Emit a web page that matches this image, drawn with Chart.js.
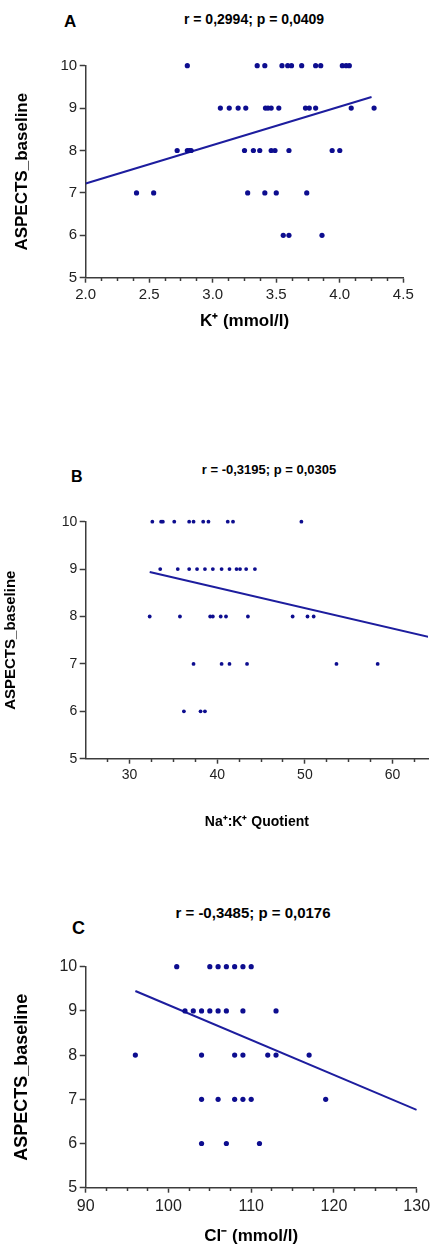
<!DOCTYPE html>
<html><head><meta charset="utf-8">
<script src="https://cdn.jsdelivr.net/npm/chart.js@4.4.1/dist/chart.umd.min.js"></script>
<style>
html,body{margin:0;padding:0;background:#fff;width:432px;height:1249px;overflow:hidden;position:relative;font-family:'Liberation Sans',Arial,sans-serif;}
canvas{position:absolute;left:0;}
.t{position:absolute;font-weight:bold;color:#000;white-space:nowrap;line-height:1;transform:translate(-50%,-50%);}
.l{position:absolute;font-weight:bold;color:#000;white-space:nowrap;line-height:1;transform:translateY(-50%);}
</style></head><body>
<div class="l" style="left:64px;top:21px;font-size:17px">A</div>
<div class="t" style="left:254px;top:19px;font-size:14px">r = 0,2994; p = 0,0409</div>
<div class="l" style="left:71px;top:477px;font-size:16px">B</div>
<div class="t" style="left:269px;top:469px;font-size:13px">r = -0,3195; p = 0,0305</div>
<div class="l" style="left:72px;top:928px;font-size:18px">C</div>
<div class="t" style="left:253px;top:912px;font-size:15px">r = -0,3485; p = 0,0176</div>
<canvas id="cA"></canvas>
<canvas id="cB"></canvas>
<canvas id="cC"></canvas>
<script>
// ---------- DATA ----------
const yTicks = [5, 6, 7, 8, 9, 10];

// Panel A: K+ (mmol/l) vs ASPECTS_baseline
const potassiumX = [2.80, 3.35, 3.41, 3.545, 3.59, 3.62, 3.70, 3.81, 3.85, 4.02, 4.05, 4.075,
                    3.06, 3.13, 3.20, 3.26, 3.415, 3.435, 3.46, 3.52, 3.73, 3.76, 3.81, 4.09, 4.27,
                    2.72, 2.80, 2.816, 2.83, 3.25, 3.32, 3.37, 3.46, 3.49, 3.60, 3.94, 4.00,
                    2.40, 2.535, 3.275, 3.41, 3.50, 3.74,
                    3.555, 3.60, 3.86];
const potassiumY = [10, 10, 10, 10, 10, 10, 10, 10, 10, 10, 10, 10,
                    9, 9, 9, 9, 9, 9, 9, 9, 9, 9, 9, 9, 9,
                    8, 8, 8, 8, 8, 8, 8, 8, 8, 8, 8, 8,
                    7, 7, 7, 7, 7, 7,
                    6, 6, 6];
const potassiumTrendX = [2.0, 4.25];
const potassiumTrendY = [7.22, 9.26];
const potassiumMajorTicks = [2.0, 2.5, 3.0, 3.5, 4.0, 4.5];
const potassiumMinorTicks = [2.125, 2.25, 2.375, 2.625, 2.75, 2.875, 3.125, 3.25, 3.375,
                             3.625, 3.75, 3.875, 4.125, 4.25, 4.375];

// Panel B: Na+:K+ Quotient vs ASPECTS_baseline
const quotientX = [32.6, 33.6, 33.8, 35.1, 36.8, 37.3, 38.4, 39.0, 41.2, 41.8, 49.6,
                   33.5, 35.5, 36.8, 37.7, 38.6, 39.5, 40.5, 41.4, 42.2, 42.6, 43.3, 44.3,
                   32.3, 35.75, 39.2, 39.5, 40.4, 41.0, 43.5, 48.6, 50.3, 51.0,
                   37.3, 40.5, 41.4, 43.4, 53.6, 58.3,
                   36.2, 38.1, 38.6];
const quotientY = [10, 10, 10, 10, 10, 10, 10, 10, 10, 10, 10,
                   9, 9, 9, 9, 9, 9, 9, 9, 9, 9, 9, 9,
                   8, 8, 8, 8, 8, 8, 8, 8, 8, 8,
                   7, 7, 7, 7, 7, 7,
                   6, 6, 6];
const quotientTrendX = [32.3, 65];
const quotientTrendY = [8.94, 7.53];
const quotientMajorTicks = [30, 40, 50, 60];
const quotientMinorTicks = [27.5, 32.5, 35, 37.5, 42.5, 45, 47.5, 52.5, 55, 57.5, 62.5];

// Panel C: Cl- (mmol/l) vs ASPECTS_baseline
const chlorideX = [101, 105, 106, 107, 108, 109, 110,
                   102, 103, 104, 105, 106, 107, 109, 113,
                   96, 104, 108, 109, 112, 113, 117,
                   104, 106, 108, 109, 110, 119,
                   104, 107, 111];
const chlorideY = [10, 10, 10, 10, 10, 10, 10,
                   9, 9, 9, 9, 9, 9, 9, 9,
                   8, 8, 8, 8, 8, 8, 8,
                   7, 7, 7, 7, 7, 7,
                   6, 6, 6];
const chlorideTrendX = [96, 130];
const chlorideTrendY = [9.45, 6.76];
const chlorideMajorTicks = [90, 100, 110, 120, 130];
const chlorideMinorTicks = [92.5, 95, 97.5, 102.5, 105, 107.5, 112.5, 115, 117.5, 122.5, 125, 127.5];

// ---------- RENDER ----------
const FAMILY = "'Liberation Sans', Arial, sans-serif";
const DOT = '#0d0d8f';
const TREND = '#1d1d9e';
const AXIS = '#3c3c3c';
const TICKTXT = '#222';

function makePanel(id, c) {
  const canvas = document.getElementById(id);
  canvas.width = 432; canvas.height = c.height;
  canvas.style.top = c.top + 'px';
  const area = c.area;
  const bottomH = c.top + c.height - area.b;
  new Chart(canvas, {
    type: 'scatter',
    data: { datasets: [
      { type: 'line', xAxisID: 'x', yAxisID: 'y',
        data: c.trendX.map((x, i) => ({x: x, y: c.trendY[i]})),
        borderColor: TREND, borderWidth: 2, pointRadius: 0, fill: false, tension: 0, order: 1 },
      { type: 'scatter', xAxisID: 'x', yAxisID: 'y',
        data: c.xs.map((x, i) => ({x: x, y: c.ys[i]})),
        backgroundColor: DOT, borderColor: DOT, borderWidth: 0, pointRadius: c.r, clip: false, order: 0 }
    ]},
    options: {
      responsive: false, animation: false, devicePixelRatio: 1,
      layout: { padding: { left: 0, top: area.t - c.top, right: 432 - area.r, bottom: 0 } },
      plugins: { legend: { display: false }, tooltip: { enabled: false } },
      scales: {
        x: {
          type: 'linear', position: 'bottom', min: c.xMin, max: c.xMax,
          afterBuildTicks: s => { s.ticks = c.major.map(v => ({value: v})); },
          afterFit: s => { s.height = bottomH; s.paddingLeft = 0; s.paddingRight = 0; },
          grid: { drawOnChartArea: false, drawTicks: true, tickLength: 5, tickColor: AXIS, tickWidth: 1.5 },
          border: { display: true, color: AXIS, width: 1.5 },
          ticks: { color: TICKTXT, font: { family: FAMILY, size: c.xTickSize }, padding: c.xTickPad,
                   autoSkip: false, maxRotation: 0, callback: v => c.fmt(v) },
          title: { display: true, text: c.xTitle, color: '#000',
                   font: { family: FAMILY, size: c.xTitleSize, weight: 'bold' },
                   padding: { top: 0, bottom: c.xTitlePad } }
        },
        xMinor: {
          type: 'linear', axis: 'x', position: { y: 5 }, min: c.xMin, max: c.xMax,
          afterBuildTicks: s => { s.ticks = c.minor.map(v => ({value: v})); },
          afterFit: s => { s.paddingLeft = 0; s.paddingRight = 0; },
          grid: { drawOnChartArea: false, drawTicks: true, tickLength: 3, tickColor: AXIS, tickWidth: 1.5 },
          border: { display: false },
          ticks: { autoSkip: false, maxRotation: 0, padding: 0, font: { size: 1 }, callback: () => '' }
        },
        y: {
          type: 'linear', position: 'left', min: 5, max: 10,
          afterBuildTicks: s => { s.ticks = yTicks.map(v => ({value: v})); },
          afterFit: s => { s.width = area.l; s.paddingTop = 0; s.paddingBottom = 0; },
          grid: { drawOnChartArea: false, drawTicks: true, tickLength: 6, tickColor: AXIS, tickWidth: 1.5 },
          border: { display: true, color: AXIS, width: 1.5 },
          ticks: { color: TICKTXT, font: { family: FAMILY, size: c.yTickSize }, padding: c.yTickPad },
          title: { display: true, text: 'ASPECTS_baseline', color: '#000',
                   font: { family: FAMILY, size: c.yTitleSize, weight: 'bold' },
                   padding: { top: c.yTitlePad, bottom: 0 } }
        }
      }
    }
  });
}

makePanel('cA', {
  top: 40, height: 300, area: { l: 85.7, r: 403.3, t: 65.7, b: 277.7 },
  xs: potassiumX, ys: potassiumY, trendX: potassiumTrendX, trendY: potassiumTrendY,
  xMin: 2.0, xMax: 4.5, major: potassiumMajorTicks, minor: potassiumMinorTicks,
  fmt: v => v.toFixed(1), r: 2.6,
  xTickSize: 15, xTickPad: 3.5, yTickSize: 15, yTickPad: 2.5,
  xTitle: 'K\u207A (mmol/l)', xTitleSize: 17, xTitlePad: 8,
  yTitleSize: 17, yTitlePad: 12.3
});

makePanel('cB', {
  top: 500, height: 335, area: { l: 85.7, r: 432, t: 521.7, b: 758.7 },
  xs: quotientX, ys: quotientY, trendX: quotientTrendX, trendY: quotientTrendY,
  xMin: 25, xMax: 64.04, major: quotientMajorTicks, minor: quotientMinorTicks,
  fmt: v => String(v), r: 1.9,
  xTickSize: 14, xTickPad: 3, yTickSize: 14, yTickPad: 2.5,
  xTitle: 'Na\u207A:K\u207A Quotient', xTitleSize: 14, xTitlePad: 4.9,
  yTitleSize: 15, yTitlePad: 2
});

makePanel('cC', {
  top: 945, height: 304, area: { l: 85.7, r: 416.7, t: 966.7, b: 1187.7 },
  xs: chlorideX, ys: chlorideY, trendX: chlorideTrendX, trendY: chlorideTrendY,
  xMin: 90, xMax: 130, major: chlorideMajorTicks, minor: chlorideMinorTicks,
  fmt: v => String(v), r: 2.6,
  xTickSize: 16, xTickPad: 4.5, yTickSize: 16, yTickPad: 2.5,
  xTitle: 'Cl\u207B (mmol/l)', xTitleSize: 17, xTitlePad: 2.1,
  yTitleSize: 18, yTitlePad: 11.7
});
</script>
</body></html>
